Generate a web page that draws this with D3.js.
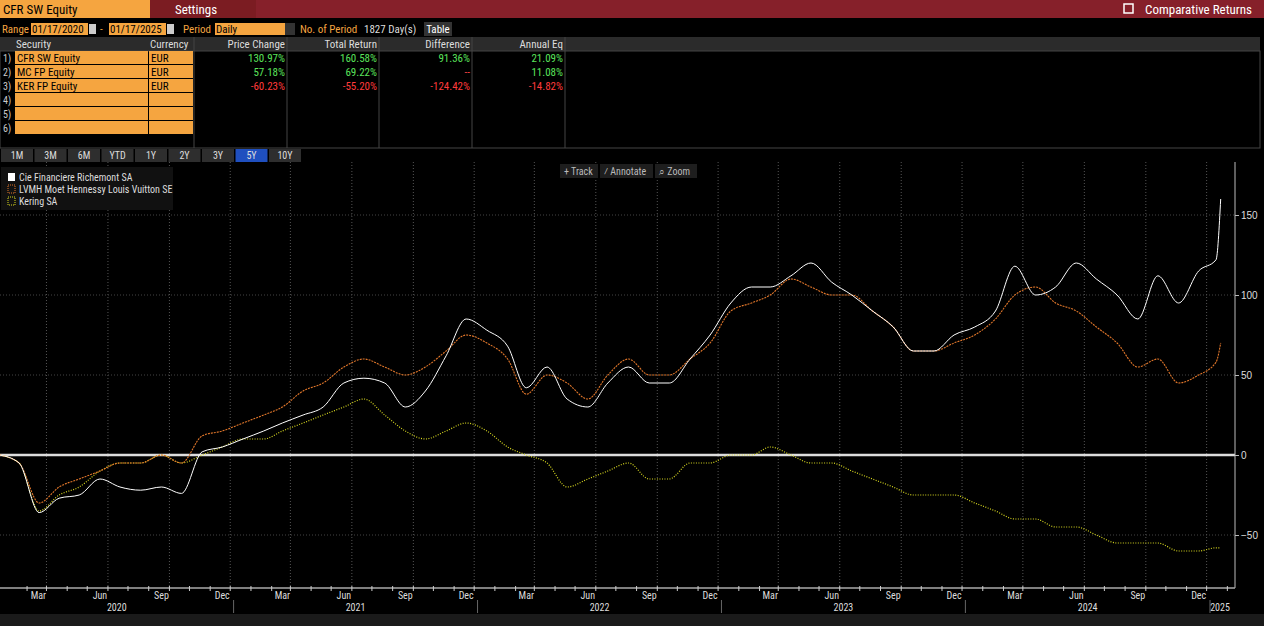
<!DOCTYPE html>
<html><head><meta charset="utf-8">
<script src="https://cdn.jsdelivr.net/npm/d3@7"></script>
<style>body{margin:0;background:#000;overflow:hidden}svg{display:block;font-family:"Liberation Sans Narrow","Roboto Condensed","DejaVu Sans Condensed",Arial,sans-serif}</style>
</head><body><svg id="c" width="1264" height="626"></svg>
<script>
const months = ["2020-01-17","2020-02-15","2020-03-16","2020-04-15","2020-05-15","2020-06-15","2020-07-15","2020-08-15","2020-09-15","2020-10-15","2020-11-15","2020-12-15",
"2021-01-15","2021-02-15","2021-03-15","2021-04-15","2021-05-15","2021-06-15","2021-07-15","2021-08-15","2021-09-15","2021-10-15","2021-11-15","2021-12-15",
"2022-01-15","2022-02-15","2022-03-15","2022-04-15","2022-05-15","2022-06-15","2022-07-15","2022-08-15","2022-09-15","2022-10-15","2022-11-15","2022-12-15",
"2023-01-15","2023-02-15","2023-03-15","2023-04-15","2023-05-15","2023-06-15","2023-07-15","2023-08-15","2023-09-15","2023-10-15","2023-11-15","2023-12-15",
"2024-01-15","2024-02-15","2024-03-15","2024-04-15","2024-05-15","2024-06-15","2024-07-15","2024-08-15","2024-09-15","2024-10-15","2024-11-15","2024-12-15",
"2025-01-10","2025-01-17"];
const richemont = [0,-5,-36,-27,-25,-15,-20,-22,-20,-24,2,5,10,15,20,25,30,45,48,45,30,40,62,85,78,68,42,55,35,30,45,55,45,45,60,75,95,105,105,112,120,108,100,90,80,65,65,75,80,90,118,100,105,120,110,100,85,112,95,115,122,160];
const lvmh = [0,-5,-30,-20,-15,-10,-5,-5,0,-5,12,15,20,25,30,40,45,55,60,55,50,55,65,75,70,60,38,50,45,35,50,60,50,50,60,70,90,95,100,110,105,100,100,90,80,65,65,70,75,85,100,105,95,90,80,70,55,60,45,50,58,70];
const kering = [0,-5,-35,-25,-20,-10,-5,-5,0,-5,0,5,10,10,15,20,25,30,35,25,15,10,15,20,15,5,0,-5,-20,-15,-10,-5,-15,-15,-5,-5,0,0,5,0,-5,-5,-10,-15,-20,-25,-25,-25,-30,-35,-40,-40,-45,-45,-50,-55,-55,-55,-60,-60,-58,-58];
const yTicks = [-50,0,50,100,150];
const tableRows = [
 ["CFR SW Equity","EUR","130.97%","160.58%","91.36%","21.09%"],
 ["MC FP Equity","EUR","57.18%","69.22%","--","11.08%"],
 ["KER FP Equity","EUR","-60.23%","-55.20%","-124.42%","-14.82%"]];
const periods = ["1M","3M","6M","YTD","1Y","2Y","3Y","5Y","10Y"];
const legendNames = ["Cie Financiere Richemont SA","LVMH Moet Hennessy Louis Vuitton SE","Kering SA"];

const svg = d3.select("#c");
const OR="#f5a540";
svg.append("rect").attr("x",0).attr("y",0).attr("width",1264).attr("height",18).attr("fill","#7b1c22");
svg.append("rect").attr("x",0).attr("y",0).attr("width",150).attr("height",18).attr("fill",OR);
svg.append("rect").attr("x",256).attr("y",0).attr("width",1008).attr("height",18).attr("fill","#86202a");
svg.append("text").attr("x",3).attr("y",14).attr("font-size",13).attr("fill","#000").text("CFR SW Equity");
svg.append("text").attr("x",196).attr("y",14).attr("font-size",13).attr("text-anchor","middle").attr("fill","#fff").text("Settings");
svg.append("text").attr("x",1252).attr("y",14).attr("font-size",13).attr("text-anchor","end").attr("fill","#fff").text("Comparative Returns");
svg.append("rect").attr("x",1124).attr("y",4).attr("width",9).attr("height",9).attr("fill","none").attr("stroke","#fff").attr("stroke-width",1.5);
const t2 = (x,s,c,a)=>svg.append("text").attr("x",x).attr("y",33).attr("font-size",11).attr("fill",c).attr("text-anchor",a||"start").text(s);
t2(2,"Range",OR);
svg.append("rect").attr("x",31).attr("y",23).attr("width",57).attr("height",12).attr("fill",OR);
t2(32,"01/17/2020","#000");
svg.append("rect").attr("x",89).attr("y",24).attr("width",7).attr("height",10).attr("fill","#ccc");
t2(100,"-",OR);
svg.append("rect").attr("x",109).attr("y",23).attr("width",57).attr("height",12).attr("fill",OR);
t2(110,"01/17/2025","#000");
svg.append("rect").attr("x",167).attr("y",24).attr("width",7).attr("height",10).attr("fill","#ccc");
t2(183,"Period",OR);
svg.append("rect").attr("x",215).attr("y",23).attr("width",70).attr("height",12).attr("fill",OR);
svg.append("rect").attr("x",285).attr("y",23).attr("width",10).attr("height",12).attr("fill","#333");
t2(216,"Daily","#000");
t2(300,"No. of Period",OR); t2(364,"1827 Day(s)","#ddd");
svg.append("rect").attr("x",424).attr("y",22).attr("width",28).attr("height",14).attr("fill","#333");
t2(438,"Table","#fff","middle");
svg.append("rect").attr("x",0).attr("y",37).attr("width",1260).attr("height",14).attr("fill","#2b2b2b");
svg.append("rect").attr("x",0).attr("y",51).attr("width",1260).attr("height",97).attr("fill","none").attr("stroke","#444");
[["Security",16,"start"],["Currency",150,"start"],["Price Change",285,"end"],["Total Return",377,"end"],["Difference",470,"end"],["Annual Eq",563,"end"]].forEach(h=>
 svg.append("text").attr("x",h[1]).attr("y",48).attr("font-size",11).attr("fill","#ddd").attr("text-anchor",h[2]).text(h[0]));
[194,287,379,472,565].forEach(x=>svg.append("line").attr("x1",x).attr("x2",x).attr("y1",37).attr("y2",148).attr("stroke","#444"));
for(let i=0;i<6;i++){
 const y=51+i*14;
 svg.append("rect").attr("x",15).attr("y",y).attr("width",133).attr("height",13).attr("fill",OR);
 svg.append("rect").attr("x",149).attr("y",y).attr("width",44).attr("height",13).attr("fill",OR);
 svg.append("text").attr("x",3).attr("y",y+11).attr("font-size",10).attr("fill","#ccc").text((i+1)+")");
 const r=tableRows[i];
 if(r){
  svg.append("text").attr("x",17).attr("y",y+11).attr("font-size",11).attr("fill","#000").text(r[0]);
  svg.append("text").attr("x",151).attr("y",y+11).attr("font-size",11).attr("fill","#000").text(r[1]);
  [2,3,4,5].forEach((k,j)=>{const neg=r[k].startsWith("-")&&r[k]!=="--";
   svg.append("text").attr("x",[285,377,470,563][j]).attr("y",y+11).attr("font-size",11).attr("text-anchor","end")
   .attr("fill",r[k]==="--"?"#f44":(neg?"#ff3b3b":"#5be35b")).text(r[k]);});
 }
}
periods.forEach((p,i)=>{
 svg.append("rect").attr("x",1+i*33.5).attr("y",149).attr("width",32).attr("height",13).attr("fill",p==="5Y"?"#1f4fbf":"#2e2e2e");
 svg.append("text").attr("x",17+i*33.5).attr("y",159).attr("font-size",10).attr("text-anchor","middle").attr("fill","#ddd").text(p);
});

const x = d3.scaleTime().domain([new Date("2020-01-01"),new Date("2025-01-01")]).range([-11,1210]);
const y = d3.scaleLinear().domain([-83.125,183.125]).range([588,162]);
const dates = months.map(d=>new Date(d));
const g = svg.append("g");
const qt = d3.timeMonth.range(new Date("2020-02-01"),new Date("2025-01-02")).filter(d=>d.getMonth()%3===2);
const mid = d=>new Date(d.getFullYear(),d.getMonth(),15);
g.selectAll(".vg").data(qt).join("line").attr("x1",d=>x(mid(d))+8).attr("x2",d=>x(mid(d))+8).attr("y1",162).attr("y2",588)
 .attr("stroke","#555").attr("stroke-dasharray","1,2");
g.selectAll(".hg").data(yTicks.filter(v=>v!==0)).join("line").attr("x1",0).attr("x2",1235).attr("y1",d=>y(d)).attr("y2",d=>y(d))
 .attr("stroke","#444").attr("stroke-dasharray","1,2");
g.append("line").attr("x1",0).attr("x2",1235).attr("y1",y(0)).attr("y2",y(0)).attr("stroke","#ddd").attr("stroke-width",2.5);
const line = d3.line().x((d,i)=>x(dates[i])).y(d=>y(d)).curve(d3.curveMonotoneX);
g.append("path").datum(kering).attr("d",line).attr("fill","none").attr("stroke","#d8d820").attr("stroke-width",1.2).attr("stroke-dasharray","1,1.5");
g.append("path").datum(lvmh).attr("d",line).attr("fill","none").attr("stroke","#e0762a").attr("stroke-width",1.1).attr("stroke-dasharray","2,1");
g.append("path").datum(richemont).attr("d",line).attr("fill","none").attr("stroke","#fff").attr("stroke-width",1);
const ya = svg.append("g").attr("transform","translate(1235,0)").call(d3.axisRight(y).tickValues(yTicks).tickSize(4));
ya.select(".domain").attr("stroke","#bbb").attr("d","M0,162V588");
ya.selectAll("line").attr("stroke","#bbb");
ya.selectAll("text").attr("fill","#ddd").attr("font-size",10).attr("x",6);
svg.append("line").attr("x1",0).attr("x2",1235).attr("y1",588).attr("y2",588).attr("stroke","#aaa").attr("stroke-width",1.5);
const allM = d3.timeMonth.range(new Date("2020-02-01"),new Date("2025-01-20"));
svg.selectAll(".mt").data(allM).join("line").attr("x1",d=>x(mid(d))+8).attr("x2",d=>x(mid(d))+8).attr("y1",586).attr("y2",591).attr("stroke","#ccc");
const mNames={2:"Mar",5:"Jun",8:"Sep",11:"Dec"};
svg.selectAll(".ml").data(qt).join("text").attr("x",d=>x(mid(d))).attr("y",599).attr("font-size",10)
 .attr("text-anchor","middle").attr("fill","#ddd").text(d=>mNames[d.getMonth()]);
[2020,2021,2022,2023,2024].forEach(yr=>{
 const a=Math.max(0,x(new Date(yr,0,1))), b=Math.min(1210,x(new Date(yr+1,0,1)));
 svg.append("text").attr("x",(a+b)/2).attr("y",611).attr("font-size",10).attr("text-anchor","middle").attr("fill","#ddd").text(yr);
 if(yr>2020) svg.append("line").attr("x1",x(new Date(yr,0,1))).attr("x2",x(new Date(yr,0,1))).attr("y1",600).attr("y2",613).attr("stroke","#666");
});
svg.append("line").attr("x1",1210).attr("x2",1210).attr("y1",600).attr("y2",613).attr("stroke","#666");
svg.append("text").attr("x",1220).attr("y",611).attr("font-size",10).attr("text-anchor","middle").attr("fill","#ddd").text("2025");
svg.append("rect").attr("x",0).attr("y",614).attr("width",1264).attr("height",12).attr("fill","#1a1a1a");
svg.append("rect").attr("x",1).attr("y",167).attr("width",172).attr("height",43).attr("fill","#111");
legendNames.forEach((n,i)=>{
 const yy=173+i*12;
 const r=svg.append("rect").attr("x",8).attr("y",yy).attr("width",7).attr("height",8);
 if(i===0) r.attr("fill","#fff"); else r.attr("fill","none").attr("stroke",i===1?"#e0762a":"#d8d820").attr("stroke-dasharray","1,1");
 svg.append("text").attr("x",19).attr("y",yy+8).attr("font-size",10).attr("fill","#ddd").text(n);
});
[["+ Track",560,38],["⁄ Annotate",600,53],["⌕ Zoom",655,42]].forEach(b=>{
 svg.append("rect").attr("x",b[1]).attr("y",164).attr("width",b[2]).attr("height",14).attr("fill","#1e1e1e");
 svg.append("text").attr("x",b[1]+4).attr("y",175).attr("font-size",10).attr("fill","#bbb").text(b[0]);
});
</script></body></html>
